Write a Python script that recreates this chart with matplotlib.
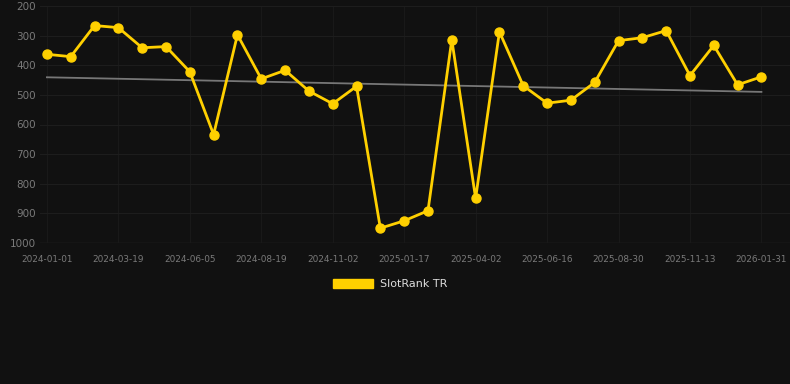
import numpy as np
import matplotlib
matplotlib.use("Agg")
import matplotlib.pyplot as plt
from matplotlib.patches import Patch

# Data
tick_labels = ["2024-01-01", "2024-03-19", "2024-06-05", "2024-08-19", "2024-11-02",
               "2025-01-17", "2025-04-02", "2025-06-16", "2025-08-30", "2025-11-13",
               "2026-01-31"]
rank = [363, 371, 266, 273, 341, 337, 422, 634, 297, 446, 417, 487, 530, 471, 950, 925,
        891, 314, 849, 287, 469, 528, 518, 458, 317, 307, 283, 435, 333, 466, 439]
series_name = "SlotRank TR"

x = np.arange(len(rank))
bg = "#111111"
gold = "#FFD000"

fig = plt.figure(figsize=(7.9, 3.84), dpi=100, facecolor=bg)
ax = fig.add_axes([40 / 790, (384 - 243) / 384, 750 / 790, 237 / 384], facecolor=bg)

# trend line (linear fit)
k, b = np.polyfit(x, rank, 1)
ax.plot(x, k * x + b, color="#777777", lw=1.3, zorder=2)

ax.plot(x, rank, color=gold, lw=2.0, marker="o", markersize=6.5, zorder=3)

ax.set_ylim(1000, 200)
ax.set_xlim(-0.29, 31.2)
ax.set_yticks(range(200, 1001, 100))
ax.set_xticks(x[::3])
ax.set_xticklabels(tick_labels)

ax.grid(True, axis="y", color="#1d1d1d", lw=0.8)
ax.grid(True, axis="x", color="#191919", lw=0.8)
ax.axhline(1000, color="#262626", lw=1.0, zorder=1)
for s in ax.spines.values():
    s.set_visible(False)
ax.tick_params(axis="y", colors="#7a7a7a", labelsize=7.5, length=0, pad=3)
ax.tick_params(axis="x", colors="#7a7a7a", labelsize=6.4, length=0, pad=8.5)

leg = fig.legend(handles=[Patch(color=gold, label=series_name)], loc="center",
                 bbox_to_anchor=(0.5 - 5 / 790, 1 - 284 / 384), frameon=False,
                 handlelength=3.6, handleheight=0.9, handletextpad=0.6,
                 fontsize=8, labelcolor="#dddddd")

fig.savefig("out.png", dpi=100, facecolor=bg)
